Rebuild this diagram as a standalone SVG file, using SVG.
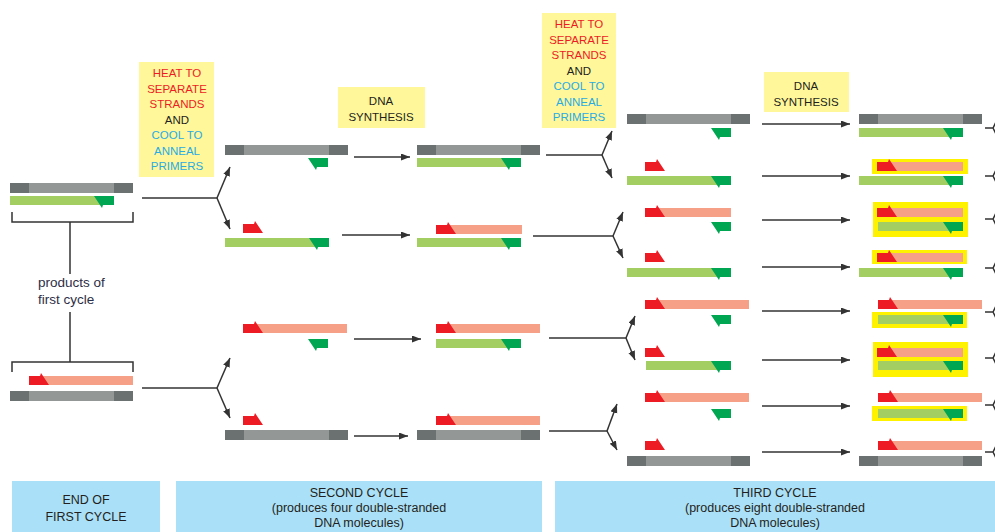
<svg xmlns="http://www.w3.org/2000/svg" xmlns:xlink="http://www.w3.org/1999/xlink" width="995" height="532" viewBox="0 0 995 532">
<style>
.lg{fill:#939897}.dg{fill:#6b7070}.gr{fill:#a3cf62}.dgr{fill:#00a651}.pk{fill:#f7a088}.rd{fill:#ed1c24}
.hl{fill:#fff200}.lbl{fill:#fff79a}.cyc{fill:#abe1f8}
.ln{stroke:#333;stroke-width:1.5;fill:none}
.ar{stroke:#333;stroke-width:1.5;fill:none;marker-end:url(#ah)}
.t{font-family:"Liberation Sans",Arial,sans-serif;text-anchor:middle}
.ty{font-size:11.5px}.r{fill:#ed1c24}.b{fill:#29abe2}.k{fill:#231f20}
.tb{font-size:12.5px;fill:#231f20}
.tp{font-family:"Liberation Sans",Arial,sans-serif;font-size:13.5px;fill:#2d2e45}
</style>
<defs>
<marker id="ah" markerWidth="10" markerHeight="8" refX="9" refY="3.5" orient="auto" markerUnits="userSpaceOnUse"><path d="M0,0 L9,3.5 L0,7 Z" fill="#333"/></marker>
<g id="tm"><rect class="lg" x="0" y="0" width="123" height="10"/><rect class="dg" x="0" y="0" width="19" height="10"/><rect class="dg" x="104" y="0" width="19" height="10"/></g>
<path id="rp" class="rd" d="M0,0 H11 L12,-3 L20,9 H0 Z"/>
<path id="gp" class="dgr" d="M0,0 H20 V9 H9 L8,12 Z"/>
<g id="gf"><rect class="gr" x="0" y="0" width="104" height="9"/><use xlink:href="#gp" x="84"/></g>
<g id="gs"><rect class="gr" x="0" y="0" width="85" height="9"/><use xlink:href="#gp" x="65"/></g>
<g id="pf"><rect class="pk" x="0" y="0" width="104" height="9"/><use xlink:href="#rp"/></g>
<g id="ps"><rect class="pk" x="0" y="0" width="86" height="9"/><use xlink:href="#rp"/></g>
</defs>
<rect width="995" height="532" fill="#fff"/>

<g id="labels">
<g id="heat1"><rect class="lbl" x="139" y="62" width="75" height="115"/>
<text class="t ty" x="177"><tspan class="r" x="177" y="77">HEAT TO</tspan><tspan class="r" x="177" y="92.5">SEPARATE</tspan><tspan class="r" x="177" y="108">STRANDS</tspan><tspan class="k" x="177" y="123.5">AND</tspan><tspan class="b" x="177" y="139">COOL TO</tspan><tspan class="b" x="177" y="154.5">ANNEAL</tspan><tspan class="b" x="177" y="170">PRIMERS</tspan></text></g>
<g id="synth1"><rect class="lbl" x="338" y="87" width="87" height="41"/>
<text class="t ty k" x="381"><tspan x="381" y="105">DNA</tspan><tspan x="381" y="121">SYNTHESIS</tspan></text></g>
<g id="heat2"><rect class="lbl" x="542" y="13" width="74" height="115"/>
<text class="t ty" x="579"><tspan class="r" x="579" y="28">HEAT TO</tspan><tspan class="r" x="579" y="43.5">SEPARATE</tspan><tspan class="r" x="579" y="59">STRANDS</tspan><tspan class="k" x="579" y="74.5">AND</tspan><tspan class="b" x="579" y="90">COOL TO</tspan><tspan class="b" x="579" y="105.5">ANNEAL</tspan><tspan class="b" x="579" y="121">PRIMERS</tspan></text></g>
<g id="synth2"><rect class="lbl" x="764" y="72" width="85" height="40"/>
<text class="t ty k" x="806"><tspan x="806" y="90">DNA</tspan><tspan x="806" y="106">SYNTHESIS</tspan></text></g>
</g>

<g id="first-cycle">
<g id="fc1"><use xlink:href="#tm" x="10" y="183"/><use xlink:href="#gf" x="10" y="196"/></g>
<g id="fc2"><use xlink:href="#pf" x="29" y="376"/><use xlink:href="#tm" x="10" y="391"/></g>
<g id="products-label">
<path class="ln" d="M12,212 V222 H133 V212 M70,222 V274 M70,312 V362 M12,372 V362 H133 V372"/>
<text class="tp" x="38" y="287">products of</text>
<text class="tp" x="38" y="304">first cycle</text>
</g>
</g>

<g id="second-cycle-split">
<g id="a1"><use xlink:href="#tm" x="225" y="145"/><use xlink:href="#gp" x="308" y="158"/></g>
<g id="a2"><use xlink:href="#rp" x="243" y="224"/><use xlink:href="#gf" x="225" y="238"/></g>
<g id="a3"><use xlink:href="#pf" x="243" y="324"/><use xlink:href="#gp" x="308" y="339"/></g>
<g id="a4"><use xlink:href="#rp" x="243" y="416"/><use xlink:href="#tm" x="225" y="430"/></g>
</g>

<g id="second-cycle-products">
<g id="b1"><use xlink:href="#tm" x="417" y="145"/><use xlink:href="#gf" x="417" y="158"/></g>
<g id="b2"><use xlink:href="#ps" x="436" y="225"/><use xlink:href="#gf" x="417" y="238"/></g>
<g id="b3"><use xlink:href="#pf" x="436" y="324"/><use xlink:href="#gs" x="436" y="339"/></g>
<g id="b4"><use xlink:href="#pf" x="436" y="416"/><use xlink:href="#tm" x="417" y="430"/></g>
</g>

<g id="third-cycle-split">
<g id="c1"><use xlink:href="#tm" x="627" y="114"/><use xlink:href="#gp" x="711" y="128"/></g>
<g id="c2"><use xlink:href="#rp" x="645" y="162"/><use xlink:href="#gf" x="627" y="176"/></g>
<g id="c3"><use xlink:href="#ps" x="645" y="208"/><use xlink:href="#gp" x="711" y="222"/></g>
<g id="c4"><use xlink:href="#rp" x="645" y="253"/><use xlink:href="#gf" x="627" y="268"/></g>
<g id="c5"><use xlink:href="#pf" x="645" y="300"/><use xlink:href="#gp" x="711" y="315"/></g>
<g id="c6"><use xlink:href="#rp" x="645" y="348"/><use xlink:href="#gs" x="646" y="361"/></g>
<g id="c7"><use xlink:href="#pf" x="645" y="393"/><use xlink:href="#gp" x="711" y="409"/></g>
<g id="c8"><use xlink:href="#rp" x="645" y="441"/><use xlink:href="#tm" x="627" y="456"/></g>
</g>

<g id="third-cycle-products">
<g id="d1"><use xlink:href="#tm" x="859" y="114"/><use xlink:href="#gf" x="859" y="128"/></g>
<g id="d2"><rect class="hl" x="872" y="159" width="96" height="15"/><use xlink:href="#ps" x="877" y="162"/><use xlink:href="#gf" x="859" y="176"/></g>
<g id="d3"><rect class="hl" x="873" y="202" width="95" height="35"/><use xlink:href="#ps" x="877" y="208"/><use xlink:href="#gs" x="878" y="222"/></g>
<g id="d4"><rect class="hl" x="872" y="250" width="95" height="14"/><use xlink:href="#ps" x="877" y="253"/><use xlink:href="#gf" x="859" y="268"/></g>
<g id="d5"><use xlink:href="#pf" x="878" y="300"/><rect class="hl" x="872" y="312" width="95" height="16"/><use xlink:href="#gs" x="878" y="315"/></g>
<g id="d6"><rect class="hl" x="873" y="342" width="95" height="35"/><use xlink:href="#ps" x="877" y="348"/><use xlink:href="#gs" x="878" y="361"/></g>
<g id="d7"><use xlink:href="#pf" x="878" y="393"/><rect class="hl" x="872" y="406" width="95" height="15"/><use xlink:href="#gs" x="878" y="409"/></g>
<g id="d8"><use xlink:href="#pf" x="878" y="441"/><use xlink:href="#tm" x="859" y="456"/></g>
</g>

<g id="connectors">
<path class="ln" d="M142,198 H217"/><path class="ar" d="M217,198 L230,167"/><path class="ar" d="M217,198 L230,229"/>
<path class="ln" d="M142,388 H217"/><path class="ar" d="M217,388 L230,358"/><path class="ar" d="M217,388 L230,418"/>
<path class="ar" d="M354,157 H410"/>
<path class="ar" d="M342,235 H410"/>
<path class="ar" d="M354,339 H421"/>
<path class="ar" d="M354,436 H408"/>
<path class="ln" d="M546,155 H602"/><path class="ar" d="M602,155 L612,131"/><path class="ar" d="M602,155 L612,178"/>
<path class="ln" d="M533,236 H613"/><path class="ar" d="M613,236 L623,212"/><path class="ar" d="M613,236 L623,258"/>
<path class="ln" d="M549,338 H626"/><path class="ar" d="M626,338 L635,316"/><path class="ar" d="M626,338 L635,360"/>
<path class="ln" d="M549,431 H607"/><path class="ar" d="M607,431 L617,404"/><path class="ar" d="M607,431 L617,450"/>
<path class="ar" d="M762,124 H850"/>
<path class="ar" d="M762,176 H850"/>
<path class="ar" d="M762,220 H850"/>
<path class="ar" d="M762,267 H850"/>
<path class="ar" d="M762,311 H850"/>
<path class="ar" d="M762,360 H850"/>
<path class="ar" d="M762,406 H850"/>
<path class="ar" d="M762,452 H850"/>
<path class="ln" d="M985,128 H993 L997,120 M993,128 L997,136 M985,176 H993 L997,168 M993,176 L997,184 M985,219 H993 L997,211 M993,219 L997,227 M985,268 H993 L997,260 M993,268 L997,276 M985,312 H993 L997,304 M993,312 L997,320 M985,358 H993 L997,350 M993,358 L997,366 M985,405 H993 L997,397 M993,405 L997,413 M985,452 H993 L997,444 M993,452 L997,460"/>
</g>

<g id="cycle-labels">
<g id="end-first"><rect class="cyc" x="12" y="481" width="148" height="51"/>
<text class="t tb"><tspan x="86" y="504">END OF</tspan><tspan x="86" y="521">FIRST CYCLE</tspan></text></g>
<g id="second"><rect class="cyc" x="176" y="481" width="366" height="51"/>
<text class="t tb"><tspan x="359" y="497">SECOND CYCLE</tspan><tspan x="359" y="512">(produces four double-stranded</tspan><tspan x="359" y="527">DNA molecules)</tspan></text></g>
<g id="third"><rect class="cyc" x="555" y="481" width="440" height="51"/>
<text class="t tb"><tspan x="775" y="497">THIRD CYCLE</tspan><tspan x="775" y="512">(produces eight double-stranded</tspan><tspan x="775" y="527">DNA molecules)</tspan></text></g>
</g>
</svg>
